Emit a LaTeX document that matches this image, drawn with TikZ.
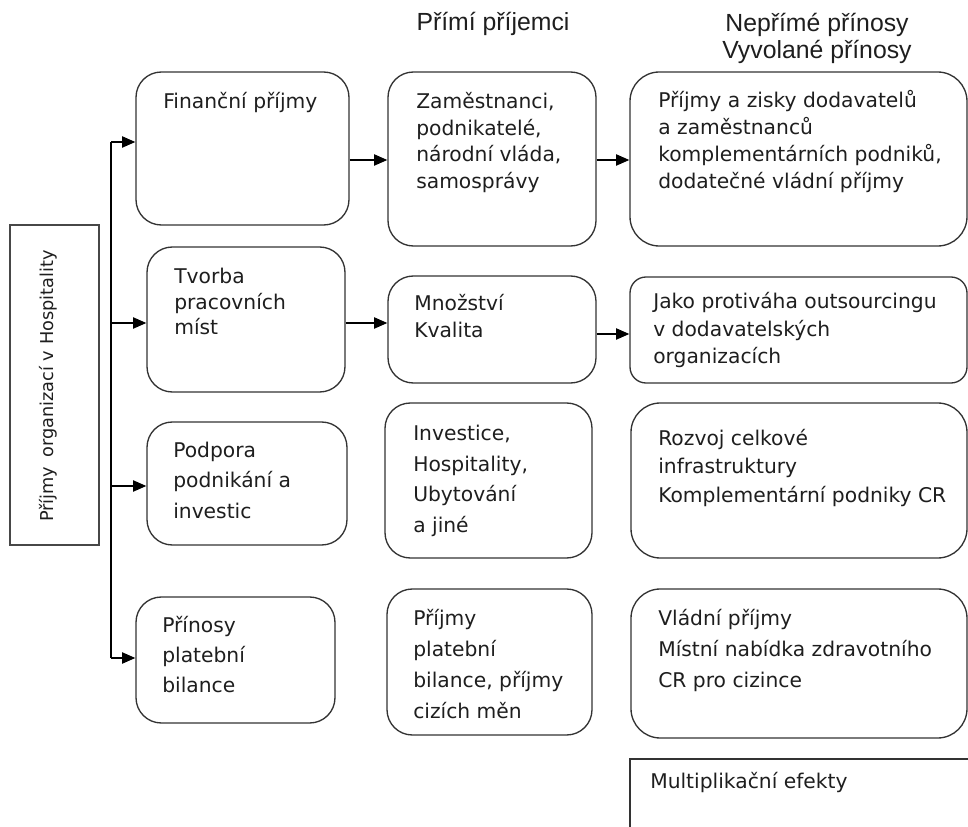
\documentclass[tikz,border=0pt]{standalone}
\usepackage{fontspec}
\setmainfont{DejaVu Sans}
\newfontfamily\hdrfont{Liberation Sans}
\usetikzlibrary{arrows.meta,fit}
\newcommand\bfnt[1]{\fontsize{15.2pt}{#1pt}\selectfont}
\definecolor{ink}{HTML}{1E1E1E}
\definecolor{edge}{HTML}{333333}
\begin{document}
\begin{tikzpicture}[x=0.75pt,y=-0.75pt,
  box/.style={draw=edge, line width=1pt, inner sep=0pt},
  txt/.style={anchor=base west, inner sep=0pt, align=left, text=ink},
  hdr/.style={inner sep=0pt, align=center, text=ink, font={\hdrfont\fontsize{18.6pt}{20.25pt}\selectfont}},
  arr/.style={draw=black, line width=1pt, -{Triangle[length=10pt,width=8.5pt]}},
]
\useasboundingbox (0,0) rectangle (968,827);
\clip (0,0) rectangle (968,827);

% headers (base anchor = baseline of the last line)
\node[hdr, anchor=base] (h1) at (493,31) {Přímí příjemci};
\node[hdr, anchor=base] (h2) at (817,58.5) {Nepřímé přínosy\\Vyvolané přínosy};

% left box
\node[box, draw=edge!90, line width=1.2pt, fit={(10,225)(99,545)}] (L) {};
\node[anchor=base, rotate=90, inner sep=0pt, text=ink, font={\fontsize{13.3pt}{16pt}\selectfont}] (Lt) at (53,386) {Příjmy\hspace{0.5em}organizací v Hospitality};

% column 1
\node[box, rounded corners=19pt, fit={(136,72)(349,225)}] (b1) {};
\node[box, rounded corners=19pt, fit={(147,247)(345,392)}] (b2) {};
\node[box, rounded corners=19pt, fit={(147,422)(347,545)}] (b3) {};
\node[box, rounded corners=19pt, fit={(136,597)(335,723)}] (b4) {};
\node[txt, font=\bfnt{20}] (t1) at (163,108.5) {Finanční příjmy};
\node[txt, font=\bfnt{19.1}] (t2) at (174,334.5) {Tvorba\\pracovních\\míst};
\node[txt, font=\bfnt{22.9}] (t3) at (173,518.5) {Podpora\\podnikání a\\investic};
\node[txt, font=\bfnt{22.5}] (t4) at (162,692.5) {Přínosy\\platební\\bilance};

% column 2
\node[box, rounded corners=19pt, fit={(388,72)(596,246)}] (m1) {};
\node[box, rounded corners=19pt, fit={(388,276)(596,383)}] (m2) {};
\node[box, rounded corners=19pt, fit={(385,403)(592,558)}] (m3) {};
\node[box, rounded corners=19pt, fit={(387,589)(592,735)}] (m4) {};
\node[txt, font=\bfnt{20}] (u1) at (416,188.6) {Zaměstnanci,\\podnikatelé,\\národní vláda,\\samosprávy};
\node[txt, font=\bfnt{20.25}] (u2) at (414,337.5) {Množství\\Kvalita};
\node[txt, font=\bfnt{23}] (u3) at (413,532.6) {Investice,\\Hospitality,\\Ubytování\\a jiné};
\node[txt, font=\bfnt{23.25}] (u4) at (413,718.5) {Příjmy\\platební\\bilance, příjmy\\cizích měn};

% column 3
\node[box, rounded corners=22pt, fit={(630,72)(967,246)}] (r1) {};
\node[box, rounded corners=12pt, fit={(630,277)(967,383)}] (r2) {};
\node[box, rounded corners=22pt, fit={(631,403)(967,558)}] (r3) {};
\node[box, rounded corners=22pt, fit={(631,589)(967,738)}] (r4) {};
\node[box, fit={(630,759)(1000,900)}] (r5) {};
\node[txt, font=\bfnt{20.25}] (v1) at (658,188.5) {Příjmy a zisky dodavatelů\\a zaměstnanců\\komplementárních podniků,\\dodatečné vládní příjmy};
\node[txt, font=\bfnt{20.6}] (v2) at (653,363.5) {Jako protiváha outsourcingu\\v dodavatelských\\organizacích};
\node[txt, font=\bfnt{21.4}] (v3) at (658,502.5) {Rozvoj celkové\\infrastruktury\\Komplementární podniky CR};
\node[txt, font=\bfnt{23.25}] (v4) at (658,687.5) {Vládní příjmy\\Místní nabídka zdravotního\\CR pro cizince};
\node[txt, font=\bfnt{20}] (v5) at (650,788.5) {Multiplikační efekty};

% spine and arrows
\coordinate (s1) at (111,142);
\coordinate (s2) at (111,323);
\coordinate (s3) at (111,486);
\coordinate (s4) at (111,658);
\coordinate (y1) at (0,160);
\coordinate (y2) at (0,334);
\draw[draw=black, line width=1pt] (s1) -- (s4);
\draw[arr] (s1) -- (s1 -| b1.west);
\draw[arr] (s2) -- (s2 -| b2.west);
\draw[arr] (s3) -- (s3 -| b3.west);
\draw[arr] (s4) -- (s4 -| b4.west);
\draw[arr] (b1.east |- y1) -- (m1.west |- y1);
\draw[arr] (m1.east |- y1) -- (r1.west |- y1);
\draw[arr] (b2.east |- s2) -- (m2.west |- s2);
\draw[arr] (m2.east |- y2) -- (r2.west |- y2);
\end{tikzpicture}
\end{document}
